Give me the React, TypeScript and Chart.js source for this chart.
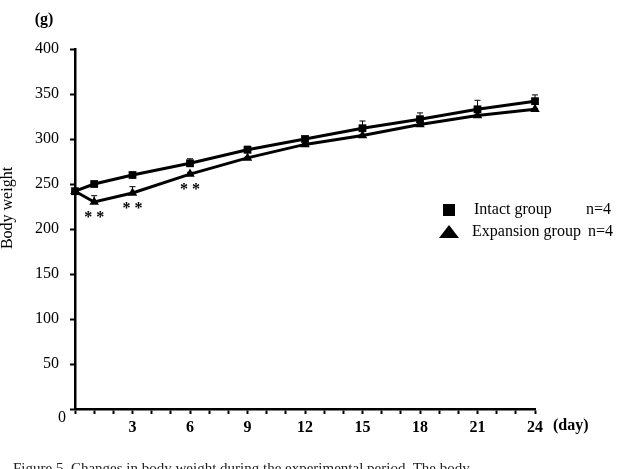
import React, { useEffect, useRef } from 'react';
import { Chart, registerables } from 'chart.js';

Chart.register(...registerables);

// ---- data ----
const days = [0, 1, 3, 6, 9, 12, 15, 18, 21, 24];
const intactWeight = [242, 250, 260, 273, 288, 300, 312, 322, 333, 342];
const intactError = [0, 1, 1, 5, 4, 2, 8, 7, 10, 7];
const expansionWeight = [242, 230, 240, 261, 279, 294, 304, 316, 326, 333];
const expansionError = [0, 7, 7, 2, 1, 1, 1, 1, 1, 1];
const significantDays = [1, 3, 6];
const seriesNames = ['Intact group', 'Expansion group'];
const groupSizes = ['n=4', 'n=4'];
const yMin = 0;
const yMax = 400;
const yStep = 50;
const xMin = 0;
const xMax = 24;
const xLabelEvery = 3;

const SERIF = '"Liberation Serif", "Times New Roman", serif';

const overlay = {
  id: 'overlay',
  afterDatasetsDraw(chart: any) {
    const ctx = chart.ctx as CanvasRenderingContext2D;
    const xs = chart.scales.x;
    const ys = chart.scales.y;
    const area = chart.chartArea;
    ctx.save();
    ctx.strokeStyle = '#000';
    ctx.fillStyle = '#000';
    ctx.lineWidth = 1;

    const drawErr = (vals: number[], errs: number[]) => {
      vals.forEach((v, i) => {
        if (!errs[i]) return;
        const x = xs.getPixelForValue(days[i]);
        const y0 = ys.getPixelForValue(v);
        const y1 = ys.getPixelForValue(v + errs[i]);
        ctx.beginPath();
        ctx.moveTo(x, y0);
        ctx.lineTo(x, y1);
        ctx.moveTo(x - 3, y1);
        ctx.lineTo(x + 3, y1);
        ctx.stroke();
      });
    };
    drawErr(intactWeight, intactError);
    drawErr(expansionWeight, expansionError);

    // significance marks
    ctx.font = `bold 16px ${SERIF}`;
    ctx.textAlign = 'center';
    ctx.textBaseline = 'alphabetic';
    significantDays.forEach((d) => {
      const i = days.indexOf(d);
      const x = xs.getPixelForValue(d);
      const y = ys.getPixelForValue(expansionWeight[i]);
      ctx.fillText('* *', x, y + 20);
    });

    // y origin label
    ctx.font = `16px ${SERIF}`;
    ctx.textAlign = 'right';
    ctx.textBaseline = 'middle';
    ctx.fillText('0', area.left - 9, area.bottom + 9);

    // axis unit labels
    ctx.font = `bold 16px ${SERIF}`;
    ctx.textAlign = 'center';
    ctx.fillText('(g)', area.left - 31, area.top - 29);
    ctx.textAlign = 'left';
    ctx.fillText('(day)', area.right + 18, area.bottom + 17);

    // y axis title
    ctx.save();
    ctx.translate(8, 208);
    ctx.rotate(-Math.PI / 2);
    ctx.font = `16px ${SERIF}`;
    ctx.textAlign = 'center';
    ctx.textBaseline = 'middle';
    ctx.fillText('Body weight', 0, 0);
    ctx.restore();

    // legend
    const lx = area.right - 86;
    const row1 = 210;
    const row2 = 232;
    ctx.fillRect(lx - 6, row1 - 6, 12, 12);
    ctx.beginPath();
    ctx.moveTo(lx - 10, row2 + 6);
    ctx.lineTo(lx + 10, row2 + 6);
    ctx.lineTo(lx, row2 - 7);
    ctx.closePath();
    ctx.fill();
    ctx.font = `16px ${SERIF}`;
    ctx.textAlign = 'left';
    ctx.textBaseline = 'middle';
    ctx.fillText(seriesNames[0], lx + 25, row1);
    ctx.fillText(groupSizes[0], lx + 137, row1);
    ctx.fillText(seriesNames[1], lx + 23, row2);
    ctx.fillText(groupSizes[1], lx + 139, row2);
    ctx.restore();
  },
};

export default function App() {
  const canvasRef = useRef<HTMLCanvasElement>(null);

  useEffect(() => {
    const canvas = canvasRef.current;
    if (!canvas) return;
    const chart = new Chart(canvas, {
      type: 'line',
      data: {
        datasets: [
          {
            label: seriesNames[0],
            data: days.map((d, i) => ({ x: d, y: intactWeight[i] })),
            borderColor: '#000',
            backgroundColor: '#000',
            borderWidth: 3,
            pointStyle: 'rect',
            pointRadius: 5.5,
            pointBorderWidth: 0,
            pointBackgroundColor: '#000',
            clip: false,
          },
          {
            label: seriesNames[1],
            data: days.map((d, i) => ({ x: d, y: expansionWeight[i] })),
            borderColor: '#000',
            backgroundColor: '#000',
            borderWidth: 3,
            pointStyle: 'triangle',
            pointRadius: 5.5,
            pointBorderWidth: 0,
            pointBackgroundColor: '#000',
            clip: false,
          },
        ],
      },
      options: {
        animation: false,
        responsive: false,
        maintainAspectRatio: false,
        layout: { padding: { left: 0, top: 49, right: 87, bottom: 0 } },
        plugins: { legend: { display: false }, tooltip: { enabled: false }, title: { display: false } },
        scales: {
          x: {
            type: 'linear',
            min: xMin,
            max: xMax,
            afterFit: (s: any) => {
              s.height = 60;
            },
            border: { display: true, color: '#000', width: 2.5 },
            grid: {
              display: true,
              drawOnChartArea: false,
              drawTicks: true,
              tickLength: 5,
              tickWidth: 2,
              tickColor: '#000',
            },
            ticks: {
              stepSize: 1,
              autoSkip: false,
              maxRotation: 0,
              padding: 4,
              color: '#000',
              font: { family: SERIF, size: 16, weight: 'bold' },
              callback: (v: any) => (v !== 0 && v % xLabelEvery === 0 ? String(v) : ''),
            },
          },
          y: {
            type: 'linear',
            min: yMin,
            max: yMax,
            afterFit: (s: any) => {
              s.width = 75;
            },
            border: { display: true, color: '#000', width: 2.5 },
            grid: {
              display: true,
              drawOnChartArea: false,
              drawTicks: true,
              tickLength: 5,
              tickWidth: 2,
              tickColor: '#000',
            },
            ticks: {
              stepSize: yStep,
              padding: 11,
              color: '#000',
              font: { family: SERIF, size: 16 },
              callback: (v: any) => (v === 0 ? '' : String(v)),
            },
          },
        },
      },
      plugins: [overlay],
    });
    return () => chart.destroy();
  }, []);

  return (
    <div
      style={{
        position: 'fixed',
        left: 0,
        top: 0,
        width: 622,
        height: 469,
        overflow: 'hidden',
        background: '#fff',
      }}
    >
      <canvas ref={canvasRef} width={622} height={469} style={{ position: 'absolute', left: 0, top: 0 }} />
      <div
        style={{
          position: 'absolute',
          left: 13,
          top: 461,
          fontFamily: SERIF,
          fontSize: 15,
          lineHeight: '15px',
          color: '#222',
          whiteSpace: 'nowrap',
        }}
      >
        Figure 5. Changes in body weight during the experimental period. The body
      </div>
    </div>
  );
}
